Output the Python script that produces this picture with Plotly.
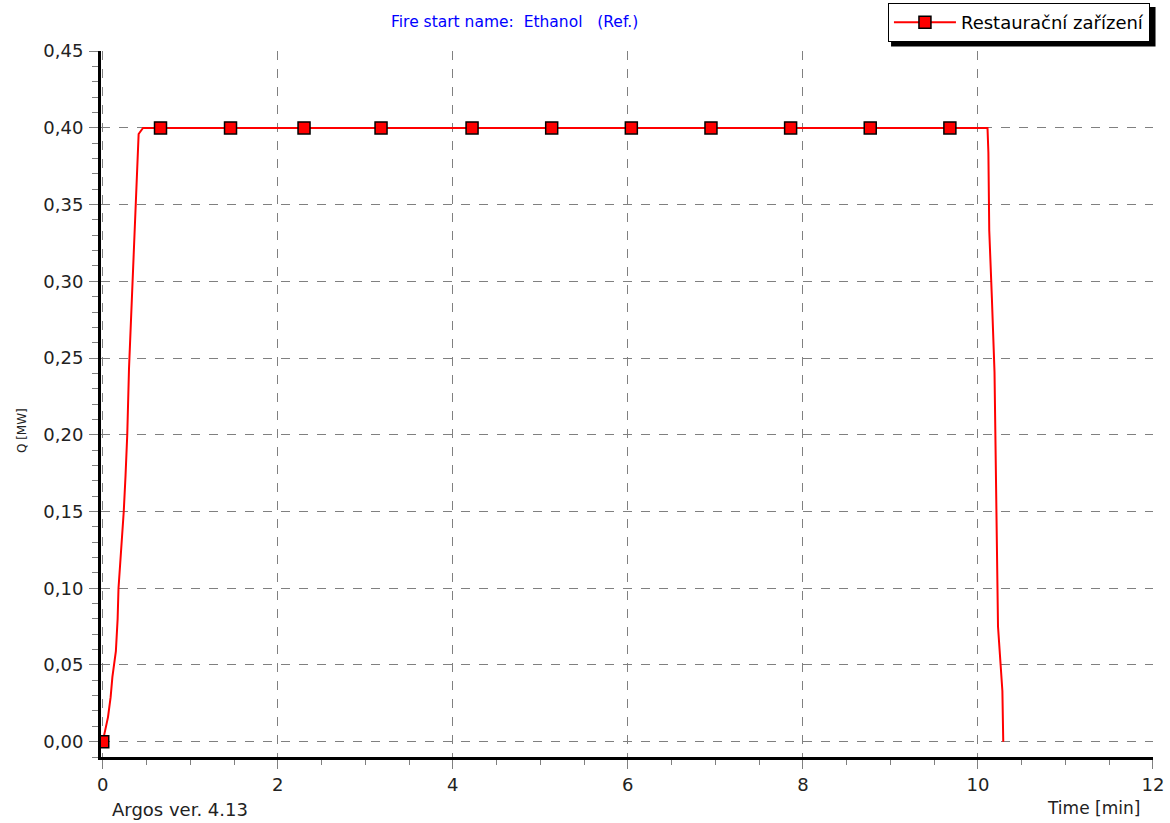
import plotly.graph_objects as go

# Heat release curve Q(t)
time_min = [0, 0.06, 0.09, 0.11, 0.15, 0.17, 0.18, 0.21, 0.24, 0.26, 0.28, 0.30, 0.32, 0.34,
            0.37, 0.40, 0.41, 0.46, 10.11, 10.12, 10.13, 10.16, 10.19, 10.21, 10.23, 10.28, 10.29]
q_mw = [0, 0.016, 0.029, 0.042, 0.059, 0.080, 0.100, 0.123, 0.150, 0.173, 0.200, 0.243, 0.269, 0.300,
        0.341, 0.375, 0.396, 0.400, 0.400, 0.384, 0.333, 0.289, 0.241, 0.158, 0.075, 0.033, 0.0]

# Marker points
marker_t = [0, 0.66, 1.46, 2.30, 3.18, 4.22, 5.13, 6.04, 6.95, 7.86, 8.77, 9.68]
marker_q = [0, 0.40, 0.40, 0.40, 0.40, 0.40, 0.40, 0.40, 0.40, 0.40, 0.40, 0.40]

series_name = "Restaurační zařízení"
subtitle = "Fire start name:  Ethanol   (Ref.)"

FONT = "DejaVu Sans"
RED = "#ff0000"
TXT = "#222222"

fig = go.Figure()
fig.add_trace(go.Scatter(x=time_min, y=q_mw, mode="lines",
                         line=dict(color=RED, width=2), showlegend=False, hoverinfo="skip"))
fig.add_trace(go.Scatter(x=marker_t, y=marker_q, mode="markers",
                         marker=dict(symbol="square", size=12, color=RED,
                                     line=dict(color="black", width=1.5)),
                         showlegend=False))
fig.add_trace(go.Scatter(x=[None], y=[None], mode="lines+markers", name=series_name,
                         line=dict(color=RED, width=2),
                         marker=dict(symbol="square", size=12, color=RED,
                                     line=dict(color="black", width=1.5))))

fig.update_layout(
    width=1170, height=823,
    paper_bgcolor="white", plot_bgcolor="white",
    margin=dict(l=101, r=17, t=51, b=66, autoexpand=False),
    separators=", ",
    font=dict(family=FONT, size=18, color=TXT),
    showlegend=True,
    legend=dict(x=0.9971, y=1.068, xanchor="right", yanchor="top",
                bgcolor="white", bordercolor="black", borderwidth=1,
                font=dict(family=FONT, size=18, color="black"),
                itemwidth=62, tracegroupgap=0),
    shapes=[dict(type="rect", xref="paper", yref="paper",
                 x0=0.7510, x1=1.0024, y0=1.0064, y1=1.0623,
                 fillcolor="black", line=dict(width=0), layer="below")],
    annotations=[
        dict(text=subtitle, xref="paper", yref="paper", x=0.3935, y=1.041,
             xanchor="center", yanchor="middle", showarrow=False,
             font=dict(family=FONT, size=15.5, color="#0000ff")),
        dict(text="Argos ver. 4.13", xref="paper", yref="paper", x=0.0086, y=-0.075,
             xanchor="left", yanchor="middle", showarrow=False,
             font=dict(family=FONT, size=18, color=TXT)),
        dict(text="Time [min]", xref="paper", yref="paper", x=0.9895, y=-0.0722,
             xanchor="right", yanchor="middle", showarrow=False,
             font=dict(family=FONT, size=17, color=TXT)),
        dict(text="Q [MW]", xref="paper", yref="paper", x=-0.0751, y=0.463,
             xanchor="center", yanchor="middle", showarrow=False, textangle=-90,
             font=dict(family=FONT, size=12, color=TXT)),
    ],
)

fig.update_xaxes(range=[-0.02, 12.001], dtick=2, tick0=0, automargin=False,
                 showline=True, linecolor="black", linewidth=3,
                 showgrid=True, gridcolor="#808080", griddash="dash", gridwidth=1,
                 zeroline=False,
                 ticks="outside", ticklen=9, tickwidth=1, tickcolor="#808080",
                 ticklabelstandoff=0,
                 minor=dict(dtick=0.5, ticks="outside", ticklen=5, tickcolor="#808080", showgrid=False))
fig.update_yaxes(range=[-0.01, 0.4501], dtick=0.05, tick0=0, tickformat=".2f", automargin=False,
                 showline=True, linecolor="black", linewidth=3,
                 showgrid=True, gridcolor="#808080", griddash="dash", gridwidth=1,
                 zeroline=False,
                 ticks="outside", ticklen=9, tickwidth=1, tickcolor="#808080",
                 ticklabelstandoff=2,
                 minor=dict(dtick=0.01, ticks="outside", ticklen=6, tickcolor="#808080", showgrid=False))

fig.write_html("out.html", config={"displayModeBar": False},
               post_script="document.body.style.margin='0px';")
